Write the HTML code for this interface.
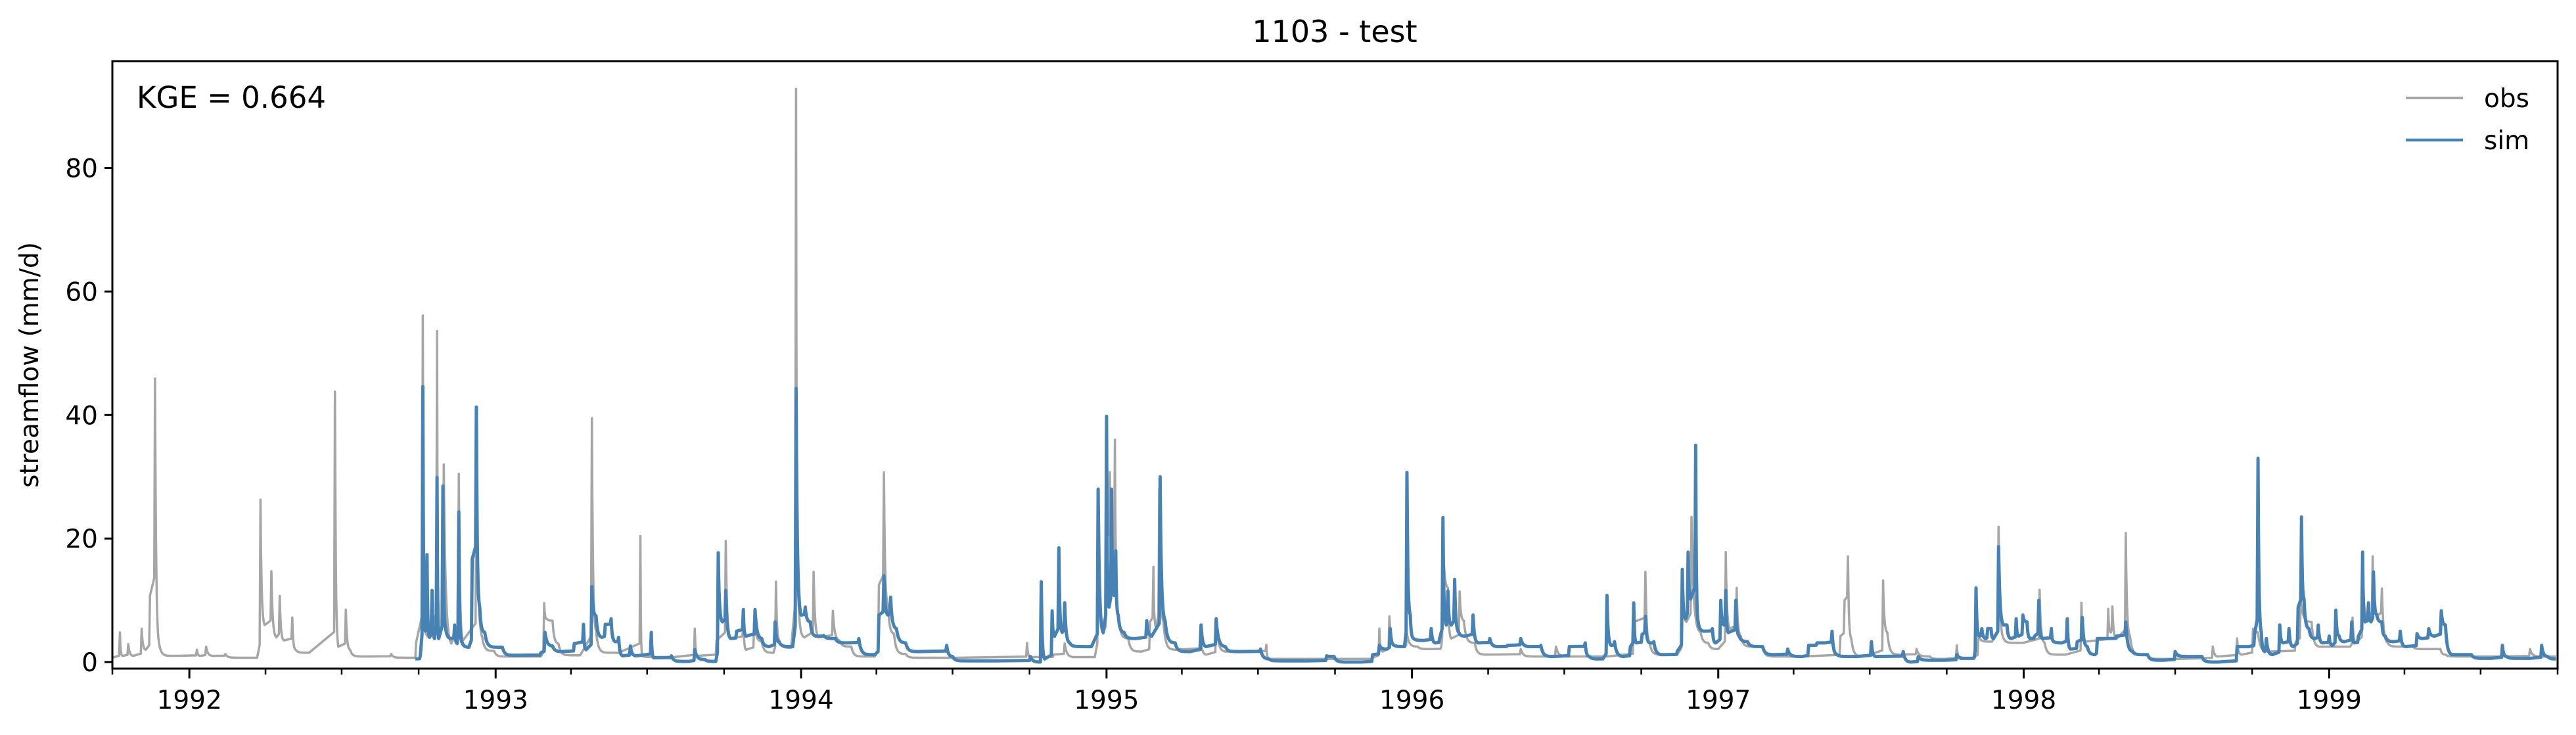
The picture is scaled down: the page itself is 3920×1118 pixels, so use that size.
<!DOCTYPE html>
<html><head><meta charset="utf-8"><style>
html,body{margin:0;padding:0;background:#fff;}
svg{display:block;font-family:"DejaVu Sans","Liberation Sans",sans-serif;}
</style></head>
<body>
<svg id="chart" width="3920" height="1118" viewBox="0 0 3920 1118" xmlns="http://www.w3.org/2000/svg">
<rect x="0" y="0" width="3920" height="1118" fill="#fff"/>
<text x="2031" y="64" font-size="46" text-anchor="middle">1103 - test</text>
<text transform="translate(58,555) rotate(-90)" font-size="39" text-anchor="middle">streamflow (mm/d)</text>
<g id="plot"></g>
<rect x="171" y="93" width="3721" height="924" fill="none" stroke="#000" stroke-width="3"/>
<text x="208" y="164" font-size="45">KGE = 0.664</text>
<g>
<line x1="3661" y1="149" x2="3748" y2="149" stroke="#a6a6a6" stroke-width="4"/>
<text x="3780" y="163" font-size="39">obs</text>
<line x1="3661" y1="213" x2="3748" y2="213" stroke="#4682b4" stroke-width="4.5"/>
<text x="3780" y="227" font-size="39">sim</text>
</g>
</svg>
<script>
// data: day offsets from 1991-10-01, values in mm/d
const obsDays = [0,9,12,19,25,35,40,45,51,56,75,101,105,112,120,135,173,177,182,190,196,200,205,215,219,235,266,270,279,284,303,333,362,363,371,374,380,388,391,396,405,414,419,435,442,456,512,516,519,526,533,559,573,578,605,631,633,671,696,699,722,733,739,754,757,767,776,790,793,797,811,817,820,827,838,844,861,869,883,911,916,922,927,934,948,1009,1093,1097,1125,1138,1149,1174,1178,1184,1188,1192,1195,1198,1202,1214,1230,1240,1244,1247,1251,1256,1270,1300,1307,1319,1330,1379,1382,1456,1506,1514,1518,1526,1534,1547,1560,1576,1588,1590,1596,1600,1610,1615,1628,1646,1683,1711,1725,1786,1818,1832,1837,1870,1876,1881,1887,1898,1907,1919,1928,1933,1941,1946,1972,2019,2065,2070,2074,2078,2093,2116,2121,2135,2156,2172,2190,2204,2209,2226,2230,2246,2254,2260,2283,2303,2309,2334,2353,2358,2385,2388,2390,2395,2406,2411,2432,2469,2510,2516,2539,2544,2558,2564,2577,2609,2615,2628,2637,2674,2677,2681,2689,2695,2701,2707,2712,2719,2749,2782,2788,2851,2889,2920];
const obsVals = [0.7,4.8,1,2.9,1,5.4,2,10.8,45.9,2.9,1,2,1,2.5,1,1.3,0.7,26.3,6,14.7,4,10.7,3.5,7.2,2,1.5,43.8,2.5,8.5,2,0.9,1.3,0.7,3.2,56.1,5,4,53.6,4,32,3,30.5,3.5,38,4,1.8,0.9,9.5,7,6.7,3,1.1,39.5,5,1.5,20.4,1,0.8,5.4,1,3.5,19.6,3.8,8.5,2,6.6,3.3,1.5,13,3.5,2.3,92.8,9.5,4,14.6,4,8.3,3.5,2.5,0.9,12.5,30.7,9,4.6,1.3,0.7,3.1,0.8,1.2,3,0.8,0.8,28,4.6,20,30.7,12,36,7.5,3.8,1.7,6.5,15.4,5.7,28,6.5,2,4.6,1.2,6.5,1.7,2.8,0.5,0.5,0.7,5.4,1.7,7.4,2.5,4.6,2.5,2.1,2.5,21,12,3.8,11.4,6.7,3.1,1.2,2.1,0.9,2.5,0.9,6.5,14.6,3.1,1.2,15,6.5,23.5,4.8,3.1,2.1,17.8,5.4,12,4.2,2.5,0.9,4.2,10,17.1,3.8,0.9,13.2,4.8,1.2,2.1,0.9,0.5,2.7,0.5,0.9,4.2,3.3,21.9,3.8,3.1,11.7,3.1,1.2,9.6,3.3,8.6,4.8,9,3.8,20.9,4.2,1.2,0.5,2.5,0.9,3.8,1.2,5.4,4.8,1.7,3.3,10.3,6.5,2.5,2.5,7.2,3.1,15,7.2,17.1,7.6,11.9,3.1,2.5,2.1,1.2,0.9,2.1,0.9];
const simDays = [362,368,371,374,376,379,382,385,388,390,395,398,405,409,412,414,417,426,430,435,439,445,466,480,512,517,526,536,552,563,566,573,578,585,589,596,601,605,610,619,626,644,647,668,689,696,708,721,724,729,733,739,746,754,757,768,776,785,792,797,813,817,823,828,834,841,850,864,878,892,911,916,922,927,930,937,948,962,997,1004,1056,1097,1109,1110,1114,1123,1126,1131,1135,1138,1144,1170,1178,1184,1188,1191,1194,1197,1199,1202,1209,1223,1236,1242,1252,1258,1270,1288,1301,1307,1319,1330,1349,1372,1382,1428,1451,1460,1492,1506,1514,1523,1527,1532,1544,1547,1551,1555,1567,1576,1581,1586,1590,1594,1596,1600,1604,1609,1616,1626,1632,1646,1655,1667,1683,1693,1707,1721,1741,1760,1765,1781,1786,1791,1795,1805,1814,1818,1821,1828,1832,1837,1842,1851,1870,1876,1880,1883,1886,1892,1895,1902,1912,1916,1922,1926,1928,1931,1940,1944,1954,1972,1986,2002,2019,2027,2037,2047,2055,2061,2084,2102,2107,2140,2149,2158,2190,2204,2213,2225,2227,2231,2234,2239,2241,2245,2248,2254,2260,2264,2269,2275,2278,2283,2288,2292,2297,2302,2306,2317,2320,2330,2336,2340,2348,2354,2360,2369,2372,2386,2395,2406,2414,2432,2451,2465,2497,2516,2539,2553,2560,2564,2568,2572,2574,2581,2590,2594,2601,2606,2612,2616,2619,2625,2632,2636,2641,2649,2653,2657,2661,2667,2676,2679,2684,2689,2692,2696,2699,2702,2706,2712,2716,2726,2734,2740,2754,2761,2768,2775,2783,2788,2796,2819,2842,2856,2861,2889,2903,2910,2920];
const simVals = [0.5,1,44.6,5,17.4,4,11.6,3.8,29.9,3.8,28.5,5.7,3.8,6,3,24.3,3.5,2.4,16.7,41.3,8.9,4.8,2.4,1.1,1.5,4.8,2.6,1.7,3,6.1,2,12.2,7.5,4,6.1,7,3.3,4,1,2.6,1,4.8,0.7,1,0.1,2,0.4,0.1,17.7,6.5,11.6,3.8,5,8.5,4.2,8.5,3.8,2.5,6.5,3.2,2.5,44.3,7.6,8.9,6.5,4.2,4.3,3.8,3.1,3.8,1.2,7.6,14,7.6,10.5,5.4,3.1,1.7,2.7,0.9,0.2,0.9,0,13,0.5,8.3,4.2,18.5,4.8,9.6,3.1,2.5,28,4.8,39.8,8.9,28,10.8,18,7.6,4.8,3.8,6.7,4.2,30,6.7,3.1,1.7,6,2.5,7,2.5,1.7,2.1,0.5,0.2,1,0.9,0,1.2,2.7,2.1,5.4,2.7,2.5,30.7,7.6,3.8,3.5,5.4,3.1,3.8,23.4,6,11.5,6,13.4,4.8,4.2,7.6,3.1,3.8,2.5,2.7,3.8,2.5,2.7,0.9,2.5,3.1,0.9,0.5,10.8,2.7,3.3,0.9,2.5,9.6,3.1,4.5,7.4,3.1,3.3,1.2,1.7,15,7,17.8,10.2,35.1,6.5,5,5.4,3.1,10,6,11.6,4.8,10,4.2,3.3,2.5,1.2,2.1,0.9,2.7,3.1,3.1,5,1.2,0.9,3.3,0.9,1.7,0,0.9,0.3,1.2,0.6,0.9,12,4.2,5.4,3.8,5.4,5.4,3.8,18.7,6,6,3.8,7,4.2,7.6,6.5,3.8,4.2,10,3.8,5.4,3.3,3.1,7,2.1,3.3,7.2,2.5,1.2,3.8,3.8,4.2,6.5,1.7,1.2,0.3,1.7,0.9,0,2.5,2.5,4.6,33,4.8,1.7,3.8,1.2,6,3.1,5.4,2.5,8.9,23.5,10.2,5.4,3.8,6,3.1,4.2,2.7,8.4,4.2,3.3,6.5,3.1,4.2,17.8,6.5,9.6,6.5,14.6,7.6,6.5,4.2,3.3,5,2.5,4.6,3.8,5.4,4.2,8.3,6,1.2,1.2,0.6,2.7,0.9,0.6,2.7,0.9,0.5];
const yTicks = [0,20,40,60,80];
const xTickYears = [1992,1993,1994,1995,1996,1997,1998,1999];

const NS = 'http://www.w3.org/2000/svg';
const X0 = 171, X1 = 3892, Y0 = 93, Y1 = 1017;
const DAYS = 2922, YMIN = -1.06, YMAX = 97.3;
const start = Date.UTC(1991,9,1);
function xScale(d){ return X0 + d*(X1-X0)/DAYS; }
function yScale(v){ return Y1 - (v-YMIN)*(Y1-Y0)/(YMAX-YMIN); }
function dayOf(y,m){ return (Date.UTC(y,m,1)-start)/86400000; }
const svg = document.getElementById('chart');
const plot = document.getElementById('plot');

// hydrograph-style rendering between read points: late rise, smooth exponential recession
function drawLine(days, vals, color, w, name){
  let d = 'M' + xScale(days[0]).toFixed(1) + ',' + yScale(vals[0]).toFixed(1);
  for(let i=1;i<days.length;i++){
    const d0 = days[i-1], v0 = vals[i-1], d1 = days[i], v1 = vals[i];
    const gap = d1 - d0;
    if(v1 > v0 && gap > 1.2){
      d += 'L' + xScale(d1-1).toFixed(1) + ',' + yScale(v0 + (v1-v0)*0.08).toFixed(1);
    } else if(v1 < v0 && gap > 1.5){
      const k = 4 / Math.min(gap, 10);
      const n = Math.min(24, Math.ceil(gap*2));
      const span = 1 - Math.exp(-k*gap);
      for(let s=1;s<n;s++){
        const t = gap*s/n;
        const f = (1 - Math.exp(-k*t)) / span;
        d += 'L' + xScale(d0+t).toFixed(1) + ',' + yScale(v0 - (v0-v1)*f).toFixed(1);
      }
    }
    d += 'L' + xScale(d1).toFixed(1) + ',' + yScale(v1).toFixed(1);
  }
  const p = document.createElementNS(NS,'path');
  p.setAttribute('d', d); p.setAttribute('fill','none'); p.setAttribute('stroke', color);
  p.setAttribute('stroke-width', w); p.setAttribute('stroke-linejoin','round');
  
  
  plot.appendChild(p);
}
drawLine(obsDays, obsVals, '#a6a6a6', 3.5, 'obs-series-line');
drawLine(simDays, simVals, '#4682b4', 5, 'sim-series-line');

yTicks.forEach(v=>{
  const y = yScale(v);
  const t = document.createElementNS(NS,'line');
  t.setAttribute('x1', X0-12); t.setAttribute('x2', X0); t.setAttribute('y1', y); t.setAttribute('y2', y);
  t.setAttribute('stroke','#000'); t.setAttribute('stroke-width', 3);
  
  
  svg.appendChild(t);
  const l = document.createElementNS(NS,'text');
  l.setAttribute('x', X0-22); l.setAttribute('y', y+14); l.setAttribute('font-size', 39); l.setAttribute('text-anchor','end');
  l.textContent = v;
  
  
  svg.appendChild(l);
});

for(let yr=1991; yr<=1999; yr++){
  for(let m=0;m<12;m+=3){
    const d = dayOf(yr,m);
    if(d<0 || d>DAYS) continue;
    const x = xScale(d);
    const major = (m===0);
    const t = document.createElementNS(NS,'line');
    t.setAttribute('x1', x); t.setAttribute('x2', x); t.setAttribute('y1', Y1); t.setAttribute('y2', Y1 + (major?15:9));
    t.setAttribute('stroke','#000'); t.setAttribute('stroke-width', major?3:2.5);
    
    
    svg.appendChild(t);
  }
}
xTickYears.forEach(yr=>{
  const x = xScale(dayOf(yr,0));
  const l = document.createElementNS(NS,'text');
  l.setAttribute('x', x); l.setAttribute('y', 1078); l.setAttribute('font-size', 39); l.setAttribute('text-anchor','middle');
  l.textContent = yr;
  
  
  svg.appendChild(l);
});
</script>
</body></html>
